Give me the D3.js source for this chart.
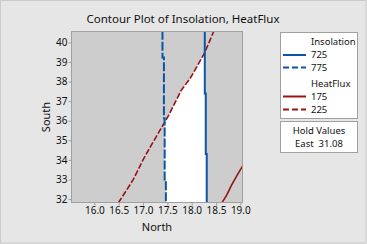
<!DOCTYPE html>
<html><head><meta charset="utf-8">
<script src="https://cdn.jsdelivr.net/npm/d3@7/dist/d3.min.js"></script>
<style>
html,body{margin:0;padding:0;background:#e6e6e6;}
svg{display:block;font-family:"Noto Sans",sans-serif;}
</style></head>
<body>
<svg id="c" width="367" height="244"></svg>
<script>
// ---- data ----
const title = "Contour Plot of Insolation, HeatFlux";
const xLabel = "North";
const yLabel = "South";
const xTicks = [16.0, 16.5, 17.0, 17.5, 18.0, 18.5, 19.0];
const yTicks = [32, 33, 34, 35, 36, 37, 38, 39, 40];
const xDomain = [15.54, 19.035];
const yDomain = [31.85, 40.53];
// Insolation contours
const insol725 = [[18.27,40.6],[18.27,37.39],[18.29,37.39],[18.29,34.30],[18.31,34.30],[18.31,31.8]];
const insol775 = [[17.40,40.6],[17.40,39.23],[17.43,39.23],[17.43,36.12],[17.445,36.12],[17.445,33.0],[17.47,33.0],[17.47,31.8]];
// HeatFlux contours
const heat175 = [[18.62,31.8],[18.72,32.2],[18.82,32.71],[18.93,33.2],[19.05,33.7]];
const heat225 = [[16.49,31.8],[16.66,32.45],[16.80,33.0],[17.0,34.0],[17.17,34.75],[17.35,35.52],[17.53,36.29],[17.79,37.57],[17.97,38.16],[18.27,39.48],[18.46,40.6]];
const legendInsol = ["725","775"];
const legendHeat = ["175","225"];
const holdName = "East";
const holdValue = "31.08";

// ---- layout ----
const svg = d3.select("#c");
const M = {l:72, t:32, r:242, b:202};
const x = d3.scaleLinear().domain(xDomain).range([M.l, M.r]);
const y = d3.scaleLinear().domain(yDomain).range([M.b, M.t]);
const blue = "#0a56a5", red = "#9a1216";

svg.append("rect").attr("x",0.5).attr("y",0.5).attr("width",365.5).attr("height",242.5)
  .attr("fill","#e6e6e6").attr("stroke","#cbcbcb");

svg.append("text").attr("x",183).attr("y",23).attr("text-anchor","middle")
  .attr("font-size",11.5).attr("fill","#111").text(title);

const defs = svg.append("defs");
defs.append("clipPath").attr("id","plotclip").append("rect")
  .attr("x",M.l).attr("y",M.t).attr("width",M.r-M.l).attr("height",M.b-M.t);
const line = d3.line().x(d=>x(d[0])).y(d=>y(d[1]));
// feasible region clips
const bigTop = yDomain[1]+5, bigBot = yDomain[0]-5, bigL = xDomain[0]-5, bigR = xDomain[1]+5;
const rightOf775 = insol775.concat([[bigR,bigBot],[bigR,bigTop]]);
const leftOf725 = insol725.concat([[bigL,bigBot],[bigL,bigTop]]);
const below225 = heat225.concat([[bigR,bigTop],[bigR,bigBot]]);
[["c1",rightOf775],["c2",leftOf725],["c3",below225]].forEach(([id,pts])=>{
  defs.append("clipPath").attr("id",id).append("path").attr("d",line(pts)+"Z");
});

const plot = svg.append("g").attr("clip-path","url(#plotclip)");
plot.append("rect").attr("x",M.l).attr("y",M.t).attr("width",M.r-M.l).attr("height",M.b-M.t)
  .attr("fill","#cdcdcd");
plot.append("g").attr("clip-path","url(#c1)")
  .append("g").attr("clip-path","url(#c2)")
  .append("rect").attr("clip-path","url(#c3)")
  .attr("x",M.l).attr("y",M.t).attr("width",M.r-M.l).attr("height",M.b-M.t).attr("fill","#ffffff");

plot.append("path").attr("d",line(heat225)).attr("fill","none").attr("stroke",red)
  .attr("stroke-width",1.6).attr("stroke-dasharray","6,2");
plot.append("path").attr("d",line(heat175)).attr("fill","none").attr("stroke",red)
  .attr("stroke-width",1.6);
plot.append("path").attr("d",line(insol775)).attr("fill","none").attr("stroke",blue)
  .attr("stroke-width",2).attr("stroke-dasharray","9,2");
plot.append("path").attr("d",line(insol725)).attr("fill","none").attr("stroke",blue)
  .attr("stroke-width",2);

svg.append("rect").attr("x",M.l-0.5).attr("y",M.t-0.5).attr("width",M.r-M.l+1).attr("height",M.b-M.t+1)
  .attr("fill","none").attr("stroke","#a0a0a0");

const xa = svg.append("g").attr("transform",`translate(0,${M.b+0.5})`)
  .call(d3.axisBottom(x).tickValues(xTicks).tickFormat(d3.format(".1f")).tickSize(3).tickSizeOuter(0));
const ya = svg.append("g").attr("transform",`translate(${M.l-0.5},0)`)
  .call(d3.axisLeft(y).tickValues(yTicks).tickFormat(d3.format("d")).tickSize(3).tickSizeOuter(0));
[xa,ya].forEach(a=>{
  a.select(".domain").remove();
  a.selectAll("line").attr("stroke","#a0a0a0");
  a.selectAll("text").attr("font-size",10).attr("fill","#111").attr("font-family","Noto Sans");
});
xa.selectAll("text").attr("dy","0.9em").attr("y",2);
ya.selectAll("text").attr("x",-4);

svg.append("text").attr("x",157).attr("y",231).attr("text-anchor","middle")
  .attr("font-size",11).attr("fill","#111").text(xLabel);
svg.append("text").attr("transform","translate(50,117) rotate(-90)").attr("text-anchor","middle")
  .attr("font-size",11).attr("fill","#111").text(yLabel);

// legend
const lg = svg.append("g");
lg.append("rect").attr("x",280.5).attr("y",32.5).attr("width",77).attr("height",86)
  .attr("fill","#fff").attr("stroke","#a0a0a0");
const lt = (tx,ty,s)=>lg.append("text").attr("x",tx).attr("y",ty).attr("dy","0.35em")
  .attr("font-size",9.5).attr("fill","#111").text(s);
lt(311,41.5,"Insolation");
lt(311,83.5,"HeatFlux");
const entries = [
  {v:legendInsol[0], c:blue, d:null, w:2, y:55},
  {v:legendInsol[1], c:blue, d:"6,3", w:2, y:67.5},
  {v:legendHeat[0], c:red, d:null, w:2, y:96.5},
  {v:legendHeat[1], c:red, d:"6,3", w:2, y:109.5}
];
entries.forEach(e=>{
  lg.append("line").attr("x1",283).attr("x2",306).attr("y1",e.y).attr("y2",e.y)
    .attr("stroke",e.c).attr("stroke-width",e.w).attr("stroke-dasharray",e.d);
  lt(311,e.y,e.v);
});
const hb = svg.append("g");
hb.append("rect").attr("x",280.5).attr("y",121.5).attr("width",77).attr("height",31)
  .attr("fill","#fff").attr("stroke","#a0a0a0");
hb.append("text").attr("x",319).attr("y",131).attr("dy","0.35em").attr("text-anchor","middle")
  .attr("font-size",9.5).attr("fill","#111").text("Hold Values");
hb.append("text").attr("x",319).attr("y",143.5).attr("dy","0.35em").attr("text-anchor","middle")
  .attr("font-size",9.5).attr("fill","#111").attr("xml:space","preserve").text(holdName+"  "+holdValue);
</script>
</body></html>
